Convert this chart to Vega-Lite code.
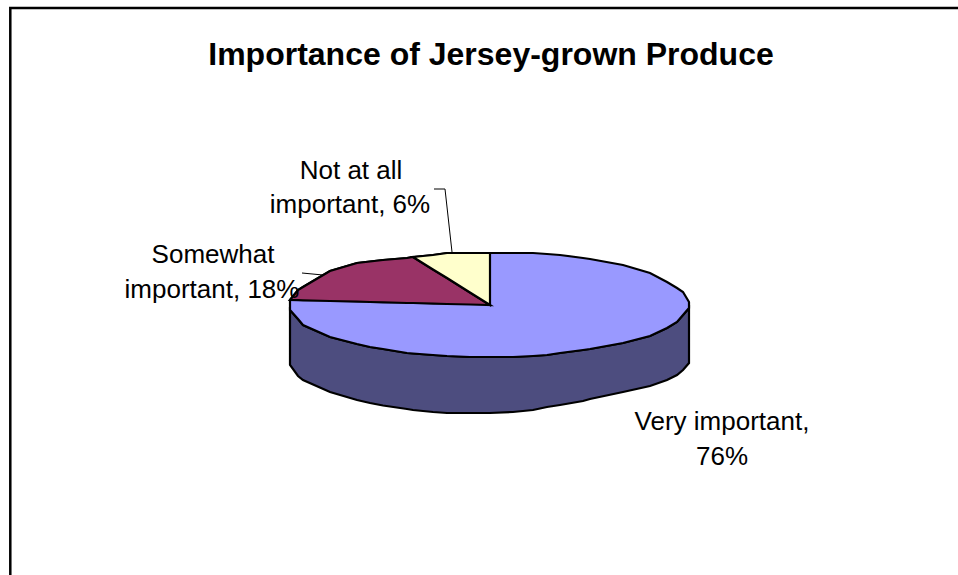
{"$schema":"https://vega.github.io/schema/vega-lite/v6.json","width":958,"height":575,"padding":0,"autosize":"none","background":"white","view":{"stroke":null},
"datasets":{
"frame":[{"x":10.3,"y":575},{"x":10.3,"y":8},{"x":958,"y":8}],
"leaders":[{"leader":"Not at all important","x":434,"y":189},{"leader":"Not at all important","x":445,"y":189},{"leader":"Not at all important","x":452,"y":252},{"leader":"Somewhat important","x":302,"y":273},{"leader":"Somewhat important","x":323,"y":275}],
"side":[{"x":290,"y":310,"y2":365},{"x":298,"y":319,"y2":376},{"x":303,"y":325,"y2":380},{"x":330,"y":337,"y2":392},{"x":357,"y":344,"y2":400},{"x":370,"y":347,"y2":403},{"x":383,"y":349,"y2":405.5},{"x":407,"y":353,"y2":409},{"x":413,"y":353.5,"y2":410},{"x":433,"y":355,"y2":412},{"x":447,"y":356,"y2":413},{"x":470,"y":357,"y2":413},{"x":490,"y":357,"y2":413},{"x":513,"y":357,"y2":412},{"x":533,"y":356,"y2":410},{"x":547,"y":355,"y2":407},{"x":560,"y":353,"y2":405},{"x":583,"y":350,"y2":401},{"x":590,"y":349,"y2":399},{"x":623,"y":343,"y2":392},{"x":650,"y":336,"y2":386},{"x":667,"y":328,"y2":380},{"x":677,"y":322,"y2":375},{"x":683,"y":315,"y2":370},{"x":689,"y":308,"y2":363}],
"very":[{"x":290,"y":300,"y2":310},{"x":298,"y":290,"y2":319},{"x":303,"y":287,"y2":325},{"x":330,"y":271,"y2":337},{"x":357,"y":263,"y2":344},{"x":370,"y":261.5,"y2":347},{"x":383,"y":260,"y2":349},{"x":407,"y":258,"y2":353},{"x":413,"y":257,"y2":353.5},{"x":433,"y":255,"y2":355},{"x":447,"y":253,"y2":356},{"x":470,"y":253,"y2":357},{"x":490,"y":253,"y2":357},{"x":513,"y":253,"y2":357},{"x":533,"y":253,"y2":356},{"x":547,"y":254,"y2":355},{"x":560,"y":255,"y2":353},{"x":583,"y":258,"y2":350},{"x":590,"y":259,"y2":349},{"x":623,"y":265,"y2":343},{"x":650,"y":273,"y2":336},{"x":667,"y":282,"y2":328},{"x":677,"y":288,"y2":322},{"x":683,"y":292,"y2":315},{"x":689,"y":302,"y2":308}],
"somewhat":[{"x":290,"y":300,"y2":300},{"x":298,"y":290,"y2":300.2},{"x":303,"y":287,"y2":300.3},{"x":330,"y":271,"y2":301},{"x":357,"y":263,"y2":301.7},{"x":370,"y":261.5,"y2":302},{"x":383,"y":260,"y2":302.3},{"x":407,"y":258,"y2":303},{"x":413,"y":257,"y2":303},{"x":433,"y":269.5,"y2":303.6},{"x":447,"y":278,"y2":304},{"x":470,"y":292.5,"y2":304.5},{"x":490,"y":305,"y2":305}],
"notatall":[{"x":413,"y":257,"y2":257},{"x":433,"y":255,"y2":269.5},{"x":447,"y":253,"y2":278},{"x":470,"y":253,"y2":292.5},{"x":490,"y":253,"y2":305}],
"labels":[{"x":351,"y":171,"text":"Not at all"},{"x":350,"y":205,"text":"important, 6%"},{"x":213,"y":255,"text":"Somewhat"},{"x":212,"y":290,"text":"important, 18%"},{"x":722,"y":422,"text":"Very important,"},{"x":722,"y":457,"text":"76%"}],
"heading":[{"x":491,"y":55,"text":"Importance of Jersey-grown Produce"}]
},
"encoding":{
"x":{"field":"x","type":"quantitative","axis":null,"scale":{"domain":[0,958],"nice":false,"zero":false}},
"y":{"field":"y","type":"quantitative","axis":null,"scale":{"domain":[575,0],"nice":false,"zero":false}}
},
"layer":[
{"data":{"name":"frame"},"mark":{"type":"line","color":"black","strokeWidth":2.5}},
{"data":{"name":"leaders"},"mark":{"type":"line","color":"black","strokeWidth":1},"encoding":{"detail":{"field":"leader"}}},
{"data":{"name":"side"},"mark":{"type":"area","fill":"#4D4D7F","stroke":"black","strokeWidth":2.2},"encoding":{"y2":{"field":"y2"}}},
{"data":{"name":"very"},"mark":{"type":"area","fill":"#9999FF","stroke":"black","strokeWidth":2.2},"encoding":{"y2":{"field":"y2"}}},
{"data":{"name":"somewhat"},"mark":{"type":"area","fill":"#993366","stroke":"black","strokeWidth":2.2},"encoding":{"y2":{"field":"y2"}}},
{"data":{"name":"notatall"},"mark":{"type":"area","fill":"#FFFFCC","stroke":"black","strokeWidth":2.2},"encoding":{"y2":{"field":"y2"}}},
{"data":{"name":"labels"},"mark":{"type":"text","font":"Liberation Sans","fontSize":26,"color":"black","align":"center","baseline":"middle"},"encoding":{"text":{"field":"text"}}},
{"data":{"name":"heading"},"mark":{"type":"text","font":"Liberation Sans","fontSize":32,"fontWeight":"bold","color":"black","align":"center","baseline":"middle"},"encoding":{"text":{"field":"text"}}}
]}
